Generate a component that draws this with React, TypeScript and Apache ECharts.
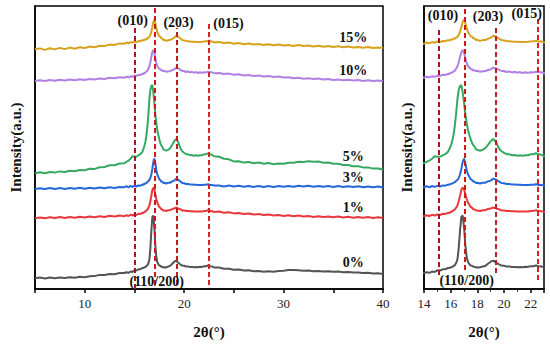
import React, { useEffect, useRef } from 'react';
import * as echarts from 'echarts';

// 2θ sampling positions (degrees)
const X = [
  5, 5.5, 6, 6.5, 7, 7.5, 8, 8.5, 9, 9.5, 10, 10.5, 11, 11.5, 12, 12.5, 13, 13.5,
  14, 14.2, 14.4, 14.6, 14.8, 15, 15.2, 15.4, 15.6, 15.8,
  15.9, 16, 16.1, 16.2, 16.3, 16.4, 16.5, 16.6, 16.7, 16.8, 16.9, 17, 17.1, 17.2, 17.3, 17.4, 17.5, 17.6, 17.7, 17.8, 17.9, 18,
  18.2, 18.4, 18.6, 18.8, 19, 19.2, 19.4, 19.6, 19.8, 20, 20.2, 20.4, 20.6, 20.8, 21, 21.2, 21.4, 21.6, 21.8, 22, 22.2, 22.4, 22.6, 22.8, 23,
  23.5, 24, 24.5, 25, 25.5, 26, 26.5, 27, 27.5, 28, 28.5, 29, 29.5, 30, 30.5, 31, 31.5, 32, 32.5, 33, 33.5, 34, 34.5, 35, 35.5, 36, 36.5, 37, 37.5, 38, 38.5, 39, 39.5, 40,
];

// Offset intensities (a.u.) of each sample, stacked as in the figure
const I_0 = [
  10.7, 11.4, 10.6, 11.5, 10.8, 11.6, 10.9, 11.8, 11.2, 12.2, 11.7, 12.8, 12.9, 14.1, 14, 15.1, 14.8, 15.9,
  16, 16.8, 16.2, 17.4, 17.1, 18.7, 18.5, 19.7, 19.8, 21,
  21, 21.7, 21.8, 23, 23.6, 25.7, 29, 40, 58, 72, 73.5, 62, 44, 32, 27, 25, 23.4, 23.2, 22.2, 22.2, 21.6, 21.8,
  21.6, 22.5, 23.1, 25.2, 27.3, 28.4, 26.3, 24.8, 23.4, 23.2, 22.4, 22.4, 22.1, 22.1, 21.8, 22, 21.8, 22.3, 22.1, 22.8, 22.8, 23.5, 22.8, 22.6, 21.6,
  21.4, 20.3, 20.3, 19.2, 19.4, 18.4, 18.7, 17.8, 18.1, 17.3, 17.8, 17.3, 18, 18.3, 18.9, 19, 18.7, 18.2, 18.4, 17.8, 18.1, 17.5, 17.8, 17.2, 17.4, 16.8, 17.1, 16.4, 16.6, 16, 16.3, 15.6, 15.7, 15.1,
];
const I_1 = [
  70.7, 71.5, 70.7, 71.7, 70.9, 71.9, 71, 72, 71.2, 72.2, 71.5, 72.4, 71.7, 72.7, 72.1, 73.2, 72.6, 73.5,
  72.8, 73.8, 73, 74.2, 73.5, 74.6, 74, 75.2, 75.1, 76.2,
  76.1, 77.2, 77.3, 78.6, 79.3, 81.2, 83.3, 87.5, 93, 99, 101.5, 99.5, 95, 90, 86.5, 84.2, 82.1, 81.2, 79.8, 79.5, 78.6, 78.6,
  78, 78.7, 78.8, 80, 80.4, 81.5, 80.6, 79.8, 78.6, 78.6, 78, 78, 77.8, 77.8, 77.6, 77.6, 77.5, 77.5, 77.4, 78, 78.1, 78.8, 77.9, 77.8, 77.1,
  77.4, 76.3, 76.8, 75.6, 76.1, 75, 75.5, 74.4, 74.9, 73.9, 74.4, 73.4, 74, 73, 73.7, 72.7, 73.4, 72.4, 73.1, 72.1, 72.8, 71.9, 72.6, 71.7, 72.4, 71.5, 72.2, 71.3, 72, 71.2, 71.9, 71.1, 71.8, 71,
];
const I_3 = [
  100, 100.8, 99.9, 100.9, 100, 101, 100.1, 101.1, 100.2, 101.2, 100.3, 101.3, 100.5, 101.5, 100.8, 101.8, 101.1, 102.1,
  101.8, 102.8, 101.7, 103, 102.1, 103.2, 102.5, 103.6, 103.3, 104.4,
  104.2, 105.2, 105.2, 106.2, 106.6, 108, 109, 111, 114.5, 120, 127, 130.5, 126, 119, 114.5, 112.2, 109.8, 109, 107.4, 107.2, 106.1, 106.2,
  105.5, 106.2, 106.3, 107.6, 108.4, 110.4, 109.3, 107.7, 106.1, 105.8, 105, 104.9, 104.6, 104.5, 104.3, 104.2, 104.1, 104.1, 104, 104.3, 104.3, 104.8, 104, 104.1, 103.4,
  103.6, 102.6, 103.4, 102.4, 103.2, 102.2, 103.1, 102.1, 103, 102, 102.9, 102.1, 103, 102.2, 103.1, 102.3, 103.2, 102.4, 103.2, 102.3, 103.1, 102.2, 103, 102.1, 102.9, 102, 102.8, 101.9, 102.7, 101.8, 102.6, 101.7, 102.5, 101.6,
];
const I_5 = [
  115.7, 116.7, 115.8, 117, 116.4, 117.6, 117, 118.2, 117.8, 119, 118.8, 120.2, 120.1, 121.7, 122, 123.7, 123.8, 125.5,
  125.8, 127.2, 128.3, 130.2, 132.8, 132.2, 132.3, 133.7, 134.8, 137.2,
  140, 143, 147, 153, 162, 174, 189, 199, 203, 204, 197, 186, 175, 166, 159, 154.2, 149.8, 146.2, 143.8, 142.2, 139.8, 139.2,
  138.3, 139.2, 140.8, 144.2, 147.8, 150, 147, 141.2, 137.8, 136.2, 134.8, 134.7, 133.8, 133.9, 133.3, 133.7, 133.2, 133.7, 133.8, 134.7, 134.8, 135.7, 134.8, 134.2, 132.8,
  132.2, 130.3, 129.7, 127.6, 127.7, 126.4, 127, 125.8, 126.4, 125.3, 126, 124.8, 125.5, 125.2, 126.2, 126.3, 127.2, 127.1, 127.8, 127.2, 127.4, 126.3, 126.5, 125.3, 125.2, 124, 124, 122.8, 122.8, 121.6, 121.6, 120.4, 120.5, 119.4,
];
const I_10 = [
  208, 208.8, 207.9, 209, 208.2, 209.3, 208.5, 209.5, 208.8, 209.8, 209, 210.1, 209.5, 210.6, 210.1, 211.2, 210.8, 211.8,
  211.3, 212.3, 211.6, 212.7, 212.2, 213.4, 213.1, 214.2, 214.1, 215.2,
  215, 216.2, 216.2, 217.5, 218.1, 220.2, 222.5, 226.5, 232, 237, 239, 236.5, 231, 226, 223, 221.5, 220, 219.8, 218.6, 218.7, 217.7, 218.2,
  217.3, 217.8, 217.8, 219, 219.6, 221.4, 220.6, 219.5, 218, 218, 217, 217.5, 216.6, 217.2, 216.3, 216.9, 216, 216.7, 216.1, 216.8, 216.6, 217.3, 216.7, 216.7, 215.8,
  215.9, 214.9, 215.4, 214.2, 214.7, 213.6, 214.1, 213, 213.5, 212.4, 212.9, 211.9, 212.4, 211.4, 211.7, 210.8, 211.3, 210.3, 210.8, 209.9, 210.4, 209.5, 210, 209.1, 209.6, 208.7, 209.2, 208.4, 208.9, 208.1, 208.7, 207.9, 208.5, 207.8,
];
const I_15 = [
  239.7, 240.6, 239.1, 240.8, 239.6, 241.1, 239.9, 241.4, 240.3, 241.8, 240.9, 242.5, 241.7, 243.2, 242.9, 244.4, 244.1, 245.6,
  245.3, 246.5, 245.7, 246.9, 246.3, 247.5, 246.8, 248, 247.8, 248.9,
  248.4, 249.6, 249.1, 250.4, 250.2, 251.4, 252, 254, 257, 262, 267, 269.5, 266, 261, 257, 254.7, 252.8, 252.2, 250.8, 250.5, 249.1, 249.2,
  248.1, 248.9, 249, 250.2, 251.3, 253.2, 252.2, 250.7, 249, 248.6, 248, 247.8, 247.5, 247.3, 247.2, 247, 247, 247.1, 247.2, 247.5, 247.7, 248.2, 247.4, 247.7, 246.6,
  247.1, 246, 246.5, 245.3, 246, 244.8, 245.5, 244.4, 245, 244.1, 244.8, 243.8, 244.4, 243.4, 244.1, 243.1, 243.9, 243, 243.5, 242.6, 243.2, 242.3, 242.9, 242.1, 242.7, 241.8, 242.4, 241.5, 242.1, 241.3, 241.9, 241, 241.6, 240.9,
];

const SAMPLE_NAMES = ['0%', '1%', '3%', '5%', '10%', '15%'];
const SAMPLE_VALUES = [I_0, I_1, I_3, I_5, I_10, I_15];
const PEAK_NAMES = ['(010)', '(110/200)', '(203)', '(015)'];
const PEAK_POS_LEFT = [15, 17, 19.3, 22.5];
const PEAK_POS_RIGHT = [15.1, 17.05, 19.35, 22.5];

const COLORS = ['#545454', '#e8383d', '#2468dc', '#35a862', '#b27fe2', '#d6a21c'];
const DASH_COLORS = ['#a3191c', '#d0191c', '#c11d20', '#dd1f22'];
const FONT = "'Liberation Serif', 'Times New Roman', serif";

export default function App() {
  const ref = useRef<HTMLDivElement>(null);
  useEffect(() => {
    if (!ref.current) return;
    const chart = echarts.init(ref.current, undefined, { renderer: 'svg' });

    const boldText = { fontFamily: FONT, fontWeight: 'bold' as const, fontSize: 14, color: '#111' };

    const lineSeries: any[] = [];
    [0, 1].forEach((g) => {
      SAMPLE_VALUES.forEach((vals, i) => {
        const s: any = {
          type: 'line',
          name: SAMPLE_NAMES[i] + (g ? ' (zoom)' : ''),
          xAxisIndex: g,
          yAxisIndex: g,
          data: X.map((x, k) => [x, vals[k]]),
          showSymbol: false,
          symbol: 'none',
          silent: true,
          lineStyle: { color: COLORS[i], width: 2 },
          itemStyle: { color: COLORS[i] },
          z: 2,
        };
        if (g === 0) {
          const baseAt37 = vals[X.indexOf(37)];
          s.markPoint = {
            symbol: 'circle',
            symbolSize: 0,
            silent: true,
            label: { show: true, position: 'inside', formatter: SAMPLE_NAMES[i], ...boldText },
            data: [{ coord: [37, baseAt37 + 10] }],
          };
        }
        lineSeries.push(s);
      });
    });

    const mkDash = (x: number, y0: number, y1: number, color: string) => [
      { coord: [x, y0], lineStyle: { color, type: [5, 3], width: 2 } },
      { coord: [x, y1] },
    ];

    const leftDashes = {
      type: 'line',
      xAxisIndex: 0,
      yAxisIndex: 0,
      data: [],
      z: 5,
      markLine: {
        symbol: ['none', 'none'],
        silent: true,
        label: { show: false },
        data: [
          mkDash(PEAK_POS_LEFT[0], 0, 261, DASH_COLORS[0]),
          mkDash(PEAK_POS_LEFT[1], 4, 281, DASH_COLORS[1]),
          mkDash(PEAK_POS_LEFT[2], 4, 261, DASH_COLORS[2]),
          mkDash(PEAK_POS_LEFT[3], 4, 266, DASH_COLORS[3]),
        ],
      },
      markPoint: {
        symbol: 'circle',
        symbolSize: 0,
        silent: true,
        label: { show: true, position: 'inside', ...boldText },
        data: [
          { coord: [14.83, 269], label: { formatter: PEAK_NAMES[0] } },
          { coord: [17.24, 8], label: { formatter: PEAK_NAMES[1] } },
          { coord: [19.44, 267], label: { formatter: PEAK_NAMES[2] } },
          { coord: [24.46, 266], label: { formatter: PEAK_NAMES[3] } },
        ],
      },
    };
    const rightDashes = {
      type: 'line',
      xAxisIndex: 1,
      yAxisIndex: 1,
      data: [],
      z: 5,
      markLine: {
        symbol: ['none', 'none'],
        silent: true,
        label: { show: false },
        data: [
          mkDash(PEAK_POS_RIGHT[0], 14, 262, DASH_COLORS[0]),
          mkDash(PEAK_POS_RIGHT[1], 19, 283, DASH_COLORS[1]),
          mkDash(PEAK_POS_RIGHT[2], 16, 262, DASH_COLORS[2]),
          mkDash(PEAK_POS_RIGHT[3], 9, 271, DASH_COLORS[3]),
        ],
      },
      markPoint: {
        symbol: 'circle',
        symbolSize: 0,
        silent: true,
        label: { show: true, position: 'inside', ...boldText },
        data: [
          { coord: [15.42, 274], label: { formatter: PEAK_NAMES[0] } },
          { coord: [17.2, 9], label: { formatter: PEAK_NAMES[1] } },
          { coord: [18.8, 273], label: { formatter: PEAK_NAMES[2] } },
          { coord: [21.7, 276], label: { formatter: PEAK_NAMES[3] } },
        ],
      },
    };

    const axisLine = { show: true, lineStyle: { color: '#000', width: 1.5 } };
    const axisName = { fontFamily: FONT, fontWeight: 'bold' as const, fontSize: 15, color: '#111' };
    const tickLabel = { fontFamily: FONT, fontSize: 13, color: '#222', margin: 8 };

    chart.setOption({
      animation: false,
      backgroundColor: '#fff',
      grid: [
        { left: 33, top: 6, width: 350, height: 283, show: true, borderColor: '#000', borderWidth: 1.5, backgroundColor: 'transparent' },
        { left: 424, top: 6, width: 120, height: 283, show: true, borderColor: '#000', borderWidth: 1.5, backgroundColor: 'transparent' },
      ],
      xAxis: [
        {
          gridIndex: 0, type: 'value', min: 5, max: 40, interval: 5,
          axisLine, axisTick: { show: true, inside: false, length: 4, lineStyle: { color: '#000', width: 1.5 } },
          axisLabel: { ...tickLabel, formatter: (v: number) => (v % 10 === 0 ? String(v) : '') },
          splitLine: { show: false },
          name: '2θ(°)', nameLocation: 'middle', nameGap: 35, nameTextStyle: axisName,
        },
        {
          gridIndex: 1, type: 'value', min: 14, max: 23, interval: 2,
          axisLine, axisTick: { show: true, inside: false, length: 4, lineStyle: { color: '#000', width: 1.5 } },
          minorTick: { show: true, splitNumber: 2, length: 2.5, lineStyle: { color: '#000', width: 1 } },
          axisLabel: { ...tickLabel, formatter: (v: number) => (v % 2 === 0 && v <= 22 ? String(v) : '') },
          splitLine: { show: false },
          name: '2θ(°)', nameLocation: 'middle', nameGap: 35, nameTextStyle: axisName,
        },
      ],
      yAxis: [
        {
          gridIndex: 0, type: 'value', min: 0, max: 283,
          axisLine, axisTick: { show: false }, axisLabel: { show: false }, splitLine: { show: false },
          name: 'Intensity(a.u.)', nameLocation: 'middle', nameGap: 12, nameTextStyle: axisName,
        },
        {
          gridIndex: 1, type: 'value', min: 0, max: 283,
          axisLine, axisTick: { show: false }, axisLabel: { show: false }, splitLine: { show: false },
          name: 'Intensity(a.u.)', nameLocation: 'middle', nameGap: 10, nameTextStyle: axisName,
        },
      ],
      series: [...lineSeries, leftDashes, rightDashes],
    });
    return () => chart.dispose();
  }, []);
  return <div ref={ref} style={{ position: 'absolute', left: 0, top: 0, width: 550, height: 345 }} />;
}
